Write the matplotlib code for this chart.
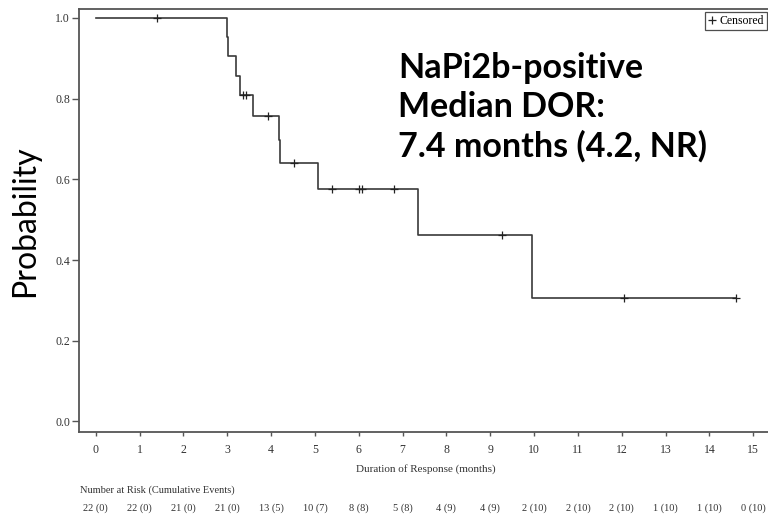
import matplotlib
matplotlib.use("Agg")
import matplotlib.pyplot as plt
from matplotlib.transforms import blended_transform_factory
from matplotlib.lines import Line2D

# ---- data ----
step_times = [0, 3.0, 3.02, 3.2, 3.28, 3.58, 4.17, 4.21, 5.08, 7.35, 9.95, 14.6]
step_surv = [1.0, 0.952, 0.905, 0.857, 0.810, 0.756, 0.698, 0.640, 0.576, 0.461, 0.307, 0.307]
censor_times = [1.4, 3.37, 3.43, 3.94, 4.53, 5.39, 6.01, 6.08, 6.80, 9.26, 12.04, 14.6]
censor_surv = [1.0, 0.810, 0.810, 0.756, 0.640, 0.576, 0.576, 0.576, 0.576, 0.461, 0.307, 0.307]
x_ticks = list(range(0, 16))
y_ticks = [0.0, 0.2, 0.4, 0.6, 0.8, 1.0]
risk_labels = ["22 (0)", "22 (0)", "21 (0)", "21 (0)", "13 (5)", "10 (7)", "8 (8)", "5 (8)",
               "4 (9)", "4 (9)", "2 (10)", "2 (10)", "2 (10)", "1 (10)", "1 (10)", "0 (10)"]
annot_text = "NaPi2b-positive\nMedian DOR:\n7.4 months (4.2, NR)"

W, H = 768, 515
fig = plt.figure(figsize=(W / 100, H / 100), dpi=100)
ax = fig.add_axes([79 / W, (H - 431.7) / H, (W - 79) / W, (431.7 - 9) / H])

serif = ["Liberation Serif", "DejaVu Serif"]
line_col = "#3a3a3a"
spine_col = "#555555"

ax.step(step_times, step_surv, where="post", color=line_col, lw=1.2)
ax.plot(censor_times, censor_surv, ls="none", marker="+", ms=6, mew=0.9, color="#222222")

ax.set_xlim(-0.381, 15.335)
ax.set_ylim(-0.0253, 1.0223)
ax.set_xticks(x_ticks)
ax.set_yticks(y_ticks)
ax.set_yticklabels([f"{v:.1f}" for v in y_ticks])

for s in ["left", "bottom", "top"]:
    ax.spines[s].set_color(spine_col)
    ax.spines[s].set_linewidth(1.3)
ax.spines["right"].set_visible(False)

ax.tick_params(axis="x", length=3, width=1, color=spine_col, pad=5.5,
               labelsize=8.5, labelcolor="#333333")
ax.tick_params(axis="y", length=5, width=1, color=spine_col, pad=1.5,
               labelsize=8.5, labelcolor="#333333")
for lab in ax.get_xticklabels() + ax.get_yticklabels():
    lab.set_family(serif)

# axis labels
fig.text(426 / W, (H - 469) / H, "Duration of Response (months)", ha="center", va="center",
         fontsize=8, family=serif, color="#333333")
fig.text(25 / W, (H - 221) / H, "Probability", rotation=90, ha="center", va="center",
         fontsize=23, family=["Lato", "DejaVu Sans"], color="black")

# legend
handle = Line2D([], [], ls="none", marker="+", ms=6, mew=0.9, color="#222222")
leg = ax.legend([handle], ["Censored"], loc="upper right", bbox_to_anchor=(0.998, 0.992),
                frameon=True, fancybox=False, handlelength=0.6, handletextpad=0.35,
                borderpad=0.25, borderaxespad=0, prop={"family": serif, "size": 8.5})
leg.get_frame().set_edgecolor("#222222")
leg.get_frame().set_linewidth(0.9)

# annotation
fig.text(398 / W, (H - 52) / H, annot_text, ha="left", va="top", fontsize=24.5,
         fontweight="bold", family=["Lato", "DejaVu Sans"], linespacing=1.27, color="black")

# risk table
trans = blended_transform_factory(ax.transData, fig.transFigure)
fig.text(80 / W, (H - 490) / H, "Number at Risk (Cumulative Events)", ha="left", va="center",
         fontsize=7.5, family=serif, color="#333333")
for x, lab in zip(x_ticks, risk_labels):
    ax.text(x, (H - 508) / H, lab, transform=trans, ha="center", va="center",
            fontsize=7.5, family=serif, color="#333333", clip_on=False)

fig.savefig("out.png", dpi=100)
